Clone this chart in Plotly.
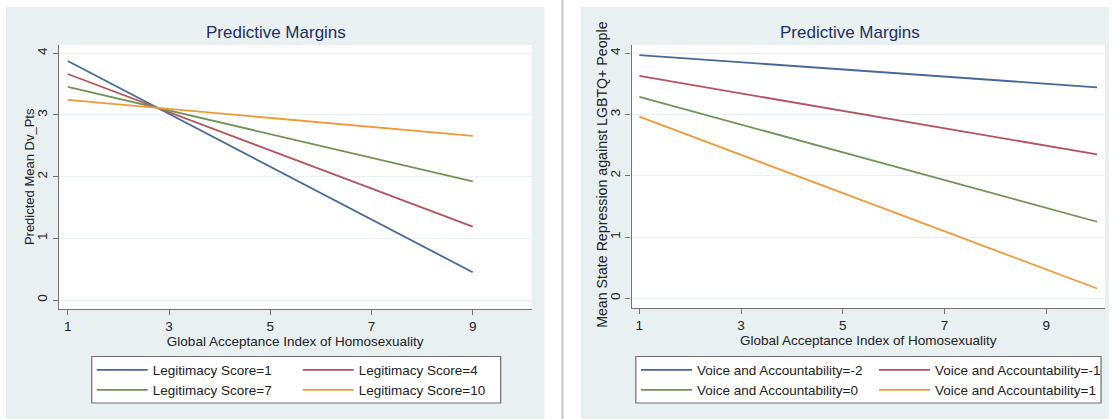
import plotly.graph_objects as go

W, H = 1112, 419

# ---------------- data ----------------
x_left = [1, 9]
legit_labels = ["Legitimacy Score=1", "Legitimacy Score=4",
                "Legitimacy Score=7", "Legitimacy Score=10"]
legit_1 = [3.875, 0.45]
legit_4 = [3.665, 1.19]
legit_7 = [3.455, 1.925]
legit_10 = [3.245, 2.66]

x_right = [1, 10]
voice_labels = ["Voice and Accountability=-2", "Voice and Accountability=-1",
                "Voice and Accountability=0", "Voice and Accountability=1"]
voice_m2 = [3.97, 3.445]
voice_m1 = [3.63, 2.35]
voice_0 = [3.29, 1.25]
voice_p1 = [2.965, 0.16]

x_ticks = [1, 3, 5, 7, 9]
y_ticks = [0, 1, 2, 3, 4]

# ---------------- style ----------------
colors = ["#46699a", "#b5545d", "#6f9452", "#f09a36"]
FONT = "Liberation Sans, Arial, Helvetica, sans-serif"
BG = "#e8f0f2"
GRID = "#eaf1f2"
AXC = "#737373"
TXT = "#222222"
TITLEC = "#1f2f60"


def px(x):
    return x / W


def py(y):
    return 1 - y / H


fig = go.Figure()

left_series = [legit_1, legit_4, legit_7, legit_10]
for i, (lab, vals) in enumerate(zip(legit_labels, left_series)):
    fig.add_trace(go.Scatter(
        x=x_left, y=vals, mode="lines", name=lab,
        line=dict(color=colors[i], width=1.8),
        xaxis="x", yaxis="y",
        legend="legend" if i < 2 else "legend2",
        hoverinfo="skip"))

right_series = [voice_m2, voice_m1, voice_0, voice_p1]
for i, (lab, vals) in enumerate(zip(voice_labels, right_series)):
    fig.add_trace(go.Scatter(
        x=x_right, y=vals, mode="lines", name=lab,
        line=dict(color=colors[i], width=1.8),
        xaxis="x2", yaxis="y2",
        legend="legend3" if i < 2 else "legend4",
        hoverinfo="skip"))

# plot areas (pixels)
L = dict(x0=59, x1=533, y0=45, y1=309)
R = dict(x0=633.3, x1=1108, y0=45, y1=308)

axis_common = dict(
    showline=True, linecolor=AXC, linewidth=1.3,
    ticks="outside", ticklen=5, tickcolor=AXC, tickwidth=1.3,
    tickfont=dict(family=FONT, size=13.5, color=TXT),
    zeroline=False,
)

xtitle = dict(text="Global Acceptance Index of Homosexuality",
              font=dict(family=FONT, size=13.5, color=TXT), standoff=3)

fig.update_layout(
    width=W, height=H, autosize=False,
    margin=dict(l=0, r=0, t=0, b=0),
    paper_bgcolor="white", plot_bgcolor="white",
    showlegend=True,
    xaxis=dict(domain=[px(L["x0"]), px(L["x1"])], anchor="y",
               range=[0.823, 10.163], tickvals=x_ticks, showgrid=False,
               title=xtitle, **axis_common),
    yaxis=dict(domain=[py(L["y1"]), py(L["y0"])], anchor="x",
               range=[-0.146, 4.135], tickvals=y_ticks, tickangle=-90,
               showgrid=True, gridcolor=GRID, gridwidth=1.2,
               **axis_common),
    xaxis2=dict(domain=[px(R["x0"]), px(R["x1"])], anchor="y2",
                range=[0.847, 10.157], tickvals=x_ticks, showgrid=False,
                title=xtitle, **axis_common),
    yaxis2=dict(domain=[py(R["y1"]), py(R["y0"])], anchor="x2",
                range=[-0.158, 4.1355], tickvals=y_ticks, tickangle=-90,
                showgrid=True, gridcolor=GRID, gridwidth=1.2,
                **axis_common),
)

leg_common = dict(orientation="h", xanchor="left", yanchor="middle",
                  bgcolor="rgba(0,0,0,0)", borderwidth=0, itemwidth=51,
                  font=dict(family=FONT, size=13.5, color=TXT),
                  traceorder="normal", itemclick=False, itemdoubleclick=False)

fig.update_layout(
    legend=dict(x=px(92), y=py(370), entrywidth=140, **leg_common),
    legend2=dict(x=px(92), y=py(390), entrywidth=140, **leg_common),
    legend3=dict(x=px(638), y=py(370), entrywidth=172, **leg_common),
    legend4=dict(x=px(638), y=py(390), entrywidth=172, **leg_common),
)

shapes = []
# panel backgrounds
shapes.append(dict(type="rect", xref="paper", yref="paper", layer="below",
                   x0=px(6), x1=px(546), y0=0, y1=py(7),
                   fillcolor=BG, line=dict(width=0)))
shapes.append(dict(type="rect", xref="paper", yref="paper", layer="below",
                   x0=px(582), x1=1, y0=0, y1=py(7),
                   fillcolor=BG, line=dict(width=0)))
# white plot regions
for P in (L, R):
    shapes.append(dict(type="rect", xref="paper", yref="paper", layer="below",
                       x0=px(P["x0"]), x1=px(P["x1"]), y0=py(P["y1"]), y1=py(P["y0"]),
                       fillcolor="white", line=dict(width=0)))
# legend boxes
shapes.append(dict(type="rect", xref="paper", yref="paper", layer="below",
                   x0=px(92), x1=px(502), y0=py(403), y1=py(356.5),
                   fillcolor="white", line=dict(color="#6e6e6e", width=1.2)))
shapes.append(dict(type="rect", xref="paper", yref="paper", layer="below",
                   x0=px(637.6), x1=px(1104), y0=py(403), y1=py(356.5),
                   fillcolor="white", line=dict(color="#6e6e6e", width=1.2)))
# separator between the two graphs
shapes.append(dict(type="line", xref="paper", yref="paper", layer="below",
                   x0=px(564), x1=px(564), y0=0, y1=1,
                   line=dict(color="#c4c4c4", width=2)))
fig.update_layout(shapes=shapes)

# titles
for cx in (276.7, 852.5):
    fig.add_annotation(text="Predictive Margins", xref="paper", yref="paper",
                       x=px(cx), y=py(32.5), xanchor="center", yanchor="middle",
                       showarrow=False, font=dict(family=FONT, size=17, color=TITLEC))

# y-axis titles
fig.add_annotation(text="Predicted Mean Dv_Pts", xref="paper", yref="paper",
                   x=px(29.5), y=py(176.7), xanchor="center", yanchor="middle",
                   textangle=-90, showarrow=False,
                   font=dict(family=FONT, size=13, color=TXT))
fig.add_annotation(text="Mean State Repression against LGBTQ+ People",
                   xref="paper", yref="paper",
                   x=px(603.5), y=py(175), xanchor="center", yanchor="middle",
                   textangle=-90, showarrow=False,
                   font=dict(family=FONT, size=14.2, color=TXT))

fig.write_html("out.html")
